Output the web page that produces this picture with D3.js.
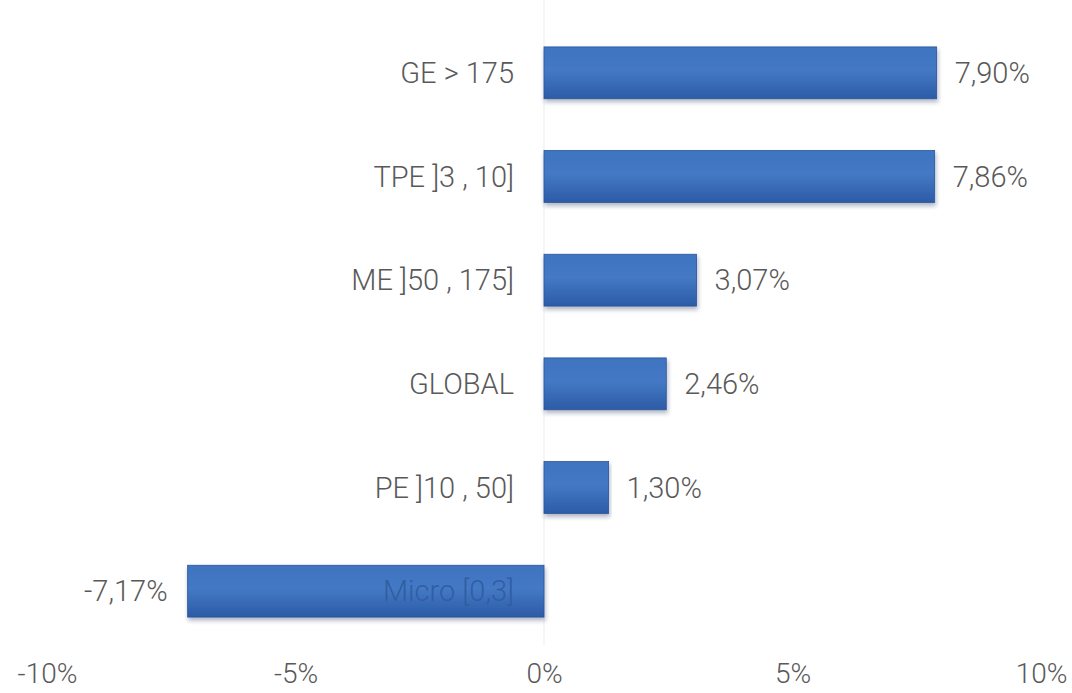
<!DOCTYPE html>
<html>
<head>
<meta charset="utf-8">
<script src="https://cdnjs.cloudflare.com/ajax/libs/d3/7.8.5/d3.min.js"></script>
<style>
  body { margin: 0; background: #fff; }
  svg text { font-family: Roboto, "Open Sans", sans-serif; font-weight: 300; fill: #595959; }
</style>
</head>
<body>
<div class="chart"></div>
<script>
var categories = ['GE > 175', 'TPE ]3 , 10]', 'ME ]50 , 175]', 'GLOBAL', 'PE ]10 , 50]', 'Micro [0,3]'];
var values = [7.90, 7.86, 3.07, 2.46, 1.30, -7.17];
var ticks = [-10, -5, 0, 5, 10];

var width = 1072, height = 693;
var fontSize = '29px';

var x = d3.scaleLinear()
    .domain([-10, 10])
    .range([47, 1041]);

var y = d3.scaleBand()
    .domain(categories)
    .range([21, 643])
    .paddingInner(0.5)
    .paddingOuter(0.25);

var svg = d3.select('.chart')
    .append('svg')
    .attr('width', width)
    .attr('height', height);

var defs = svg.append('defs');
var grad = defs.append('linearGradient')
    .attr('id', 'barGrad')
    .attr('x1', 0).attr('y1', 0).attr('x2', 0).attr('y2', 1);
grad.append('stop').attr('offset', '0%').attr('stop-color', '#3f73c0');
grad.append('stop').attr('offset', '45%').attr('stop-color', '#4479c4');
grad.append('stop').attr('offset', '100%').attr('stop-color', '#2c5ba6');

var shadow = defs.append('filter').attr('id', 'shadow')
    .attr('x', '-5%').attr('y', '-20%').attr('width', '110%').attr('height', '150%');
shadow.append('feDropShadow')
    .attr('dx', 1).attr('dy', 3).attr('stdDeviation', 2)
    .attr('flood-color', '#1a2f55').attr('flood-opacity', 0.35);

// zero line
svg.append('line')
    .attr('x1', x(0)).attr('x2', x(0))
    .attr('y1', 0).attr('y2', 645)
    .attr('stroke', '#f2f2f2')
    .attr('stroke-width', 1.5);

// category labels
svg.selectAll('.cat')
    .data(categories)
    .enter()
    .append('text')
    .attr('class', 'cat')
    .attr('x', x(0) - 30)
    .attr('y', function(d) { return y(d) + y.bandwidth() / 2; })
    .attr('dy', '.35em')
    .style('text-anchor', 'end')
    .style('font-size', fontSize)
    .text(function(d) { return d; });

svg.selectAll('.bar')
    .data(values)
    .enter()
    .append('rect')
    .attr('class', 'bar')
    .attr('x', function(d) { return x(Math.min(0, d)); })
    .attr('y', function(d, i) { return y(categories[i]); })
    .attr('width', function(d) { return Math.abs(x(d) - x(0)); })
    .attr('height', y.bandwidth())
    .attr('fill', 'url(#barGrad)')
    .attr('stroke', '#2b5699')
    .attr('stroke-width', 0.8)
    .attr('filter', 'url(#shadow)');

// label that shows faintly through the negative bar
svg.selectAll('.catIn')
    .data(categories.filter(function(d, i) { return values[i] < 0; }))
    .enter()
    .append('text')
    .attr('x', x(0) - 30)
    .attr('y', function(d) { return y(d) + y.bandwidth() / 2; })
    .attr('dy', '.35em')
    .style('text-anchor', 'end')
    .style('font-size', fontSize)
    .style('fill', '#305ea3')
    .text(function(d) { return d; });

// value labels
svg.selectAll('.val')
    .data(values)
    .enter()
    .append('text')
    .attr('class', 'val')
    .attr('x', function(d) { return d >= 0 ? x(d) + 18 : x(d) - 20; })
    .attr('y', function(d, i) { return y(categories[i]) + y.bandwidth() / 2; })
    .attr('dy', '.35em')
    .style('text-anchor', function(d) { return d >= 0 ? 'start' : 'end'; })
    .style('font-size', fontSize)
    .text(function(d) { return d.toFixed(2).replace('.', ',') + '%'; });

// x axis labels
var axis = d3.axisBottom(x)
    .tickValues(ticks)
    .tickSize(0)
    .tickPadding(0)
    .tickFormat(function(d) { return d + '%'; });

var gx = svg.append('g')
    .attr('transform', 'translate(0,' + 683 + ')')
    .call(axis);
gx.select('.domain').remove();
gx.selectAll('text')
    .style('font-size', '28px')
    .style('font-family', 'Roboto, sans-serif')
    .attr('fill', '#595959')
    .attr('dy', 0);
</script>
</body>
</html>
